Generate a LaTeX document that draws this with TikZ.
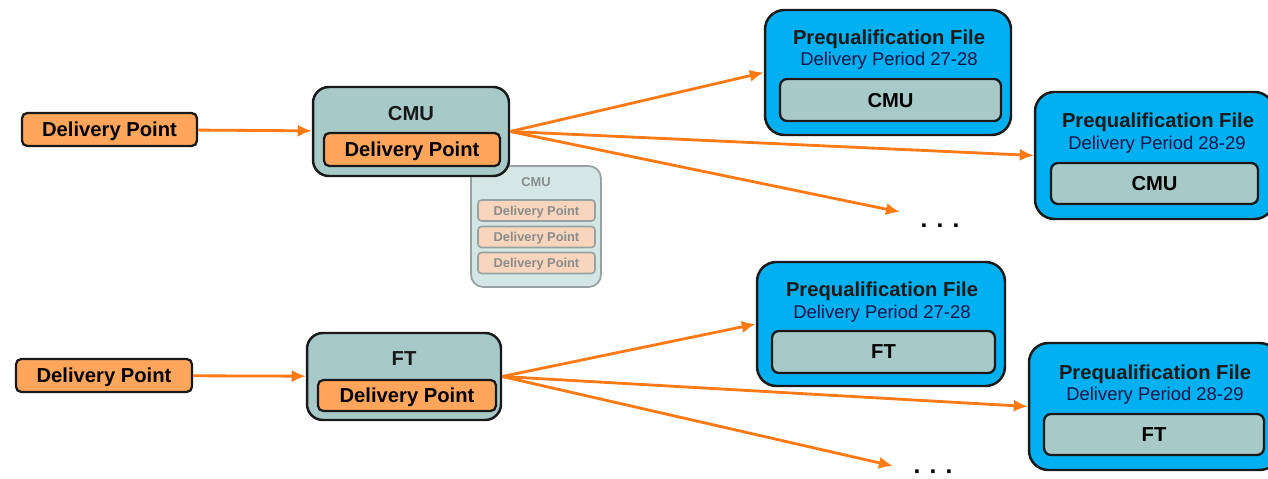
\documentclass[tikz,border=0pt]{standalone}
\usepackage{fontspec}
\setmainfont{Liberation Sans}
\usepackage{tikz}
\usetikzlibrary{arrows,arrows.meta,positioning}

\definecolor{dporange}{RGB}{255,166,92}
\definecolor{floworange}{RGB}{255,121,20}
\definecolor{unitteal}{RGB}{167,202,200}
\definecolor{pfblue}{RGB}{0,176,240}
\definecolor{edgeblack}{RGB}{25,25,25}
\definecolor{fadebg}{RGB}{213,231,229}
\definecolor{fadedp}{RGB}{250,213,190}
\definecolor{fadeline}{RGB}{150,162,162}
\definecolor{fadetext}{RGB}{135,140,140}

\tikzset{
  dp/.style={draw=edgeblack, fill=dporange, line width=1.3pt, rounded corners=3pt,
    font=\fontsize{11.5}{13}\selectfont\bfseries, inner sep=0pt, text depth=0pt},
  unitbox/.style={draw=edgeblack, fill=unitteal, line width=1.4pt, rounded corners=9pt, inner sep=0pt},
  pfbox/.style={draw=edgeblack, fill=pfblue, line width=1.4pt, rounded corners=11pt, inner sep=0pt},
  inbox/.style={draw=edgeblack, fill=unitteal, line width=1.3pt, rounded corners=4pt,
    font=\fontsize{11.5}{13}\selectfont\bfseries, inner sep=0pt, text depth=0pt},
  title/.style={font=\fontsize{11.5}{13}\selectfont\bfseries, text=edgeblack, inner sep=0pt, text depth=0pt},
  sub/.style={font=\fontsize{10.5}{12}\selectfont, text=edgeblack!80!blue, inner sep=0pt, text depth=0pt},
  fadedp/.style={draw=fadeline, fill=fadedp, line width=0.9pt, rounded corners=2pt,
    minimum width=2.34cm, minimum height=0.42cm, inner sep=0pt, text depth=0pt,
    font=\fontsize{7.3}{8}\selectfont\bfseries, text=fadetext},
  flow/.style={-{Latex[length=8pt,width=7pt]}, draw=floworange, line width=1.6pt},
  dots/.style={font=\fontsize{14}{14}\selectfont\bfseries, inner sep=0pt}
}

\begin{document}
\begin{tikzpicture}[x=0.02cm, y=-0.02cm]
\clip (0,0) rectangle (1268,479);
\fill[white] (0,0) rectangle (1268,479);

\node[draw=fadeline, fill=fadebg, line width=1pt, rounded corners=7pt,
  minimum width=2.6cm, minimum height=2.42cm] (cmu_f) at (536,226.5) {};
\node[font=\fontsize{7.3}{8}\selectfont\bfseries, text=fadetext, inner sep=0pt] (cmu_f_t) at (536,182) {CMU};
\node[fadedp] (cmu_f_1) at (536.5,210.5) {Delivery Point};
\node[fadedp] (cmu_f_2) at (536.5,237) {Delivery Point};
\node[fadedp] (cmu_f_3) at (536.5,263) {Delivery Point};

\node[dp, minimum width=3.5cm, minimum height=0.66cm] (dp_a) at (109.5,129.5) {Delivery Point};
\node[unitbox, minimum width=3.92cm, minimum height=1.78cm] (cmu) at (411,131.5) {};
\node[title] (cmu_t) at (411,113) {CMU};
\node[dp, minimum width=3.52cm, minimum height=0.66cm] (cmu_dp) at (412,149.5) {Delivery Point};

\node[pfbox, minimum width=4.92cm, minimum height=2.5cm] (pf_a) at (888,72.5) {};
\node[title] (pf_a_t) at (889,37) {Prequalification File};
\node[sub] (pf_a_s) at (889,59) {Delivery Period 27-28};
\node[inbox, minimum width=4.42cm, minimum height=0.84cm] (pf_a_u) at (890.5,100) {CMU};

\node[pfbox, minimum width=4.78cm, minimum height=2.54cm] (pf_b) at (1154.5,155.5) {};
\node[title] (pf_b_t) at (1158,120) {Prequalification File};
\node[sub] (pf_b_s) at (1157,143) {Delivery Period 28-29};
\node[inbox, minimum width=4.14cm, minimum height=0.82cm] (pf_b_u) at (1154.5,183.5) {CMU};

\coordinate (more_a) at (900,212);
\node[dots] (dots_a) at (940,226) {. . .};

\path (dp_a) edge[flow] (cmu)
  (cmu.east) edge[flow] (pf_a.west)
  (cmu.east) edge[flow] (pf_b.west)
  (cmu.east) edge[flow] (more_a);

\node[dp, minimum width=3.52cm, minimum height=0.66cm] (dp_b) at (104,375.5) {Delivery Point};
\node[unitbox, minimum width=3.88cm, minimum height=1.74cm] (ft) at (404,376.5) {};
\node[title] (ft_t) at (404,359) {FT};
\node[dp, minimum width=3.56cm, minimum height=0.62cm] (ft_dp) at (407,395.5) {Delivery Point};

\node[pfbox, minimum width=4.96cm, minimum height=2.48cm] (pf_c) at (881,324) {};
\node[title] (pf_c_t) at (882,289) {Prequalification File};
\node[sub] (pf_c_s) at (882,312) {Delivery Period 27-28};
\node[inbox, minimum width=4.46cm, minimum height=0.84cm] (pf_c_u) at (883.5,352) {FT};

\node[pfbox, minimum width=5cm, minimum height=2.54cm] (pf_d) at (1154,406.5) {};
\node[title] (pf_d_t) at (1155,372) {Prequalification File};
\node[sub] (pf_d_s) at (1155,394) {Delivery Period 28-29};
\node[inbox, minimum width=4.4cm, minimum height=0.82cm] (pf_d_u) at (1154,434.5) {FT};

\coordinate (more_b) at (893,466);
\node[dots] (dots_b) at (933,472) {. . .};

\path (dp_b) edge[flow] (ft)
  (ft.east) edge[flow] (pf_c.west)
  (ft.east) edge[flow] (pf_d.west)
  (ft.east) edge[flow] (more_b);
\end{tikzpicture}
\end{document}
